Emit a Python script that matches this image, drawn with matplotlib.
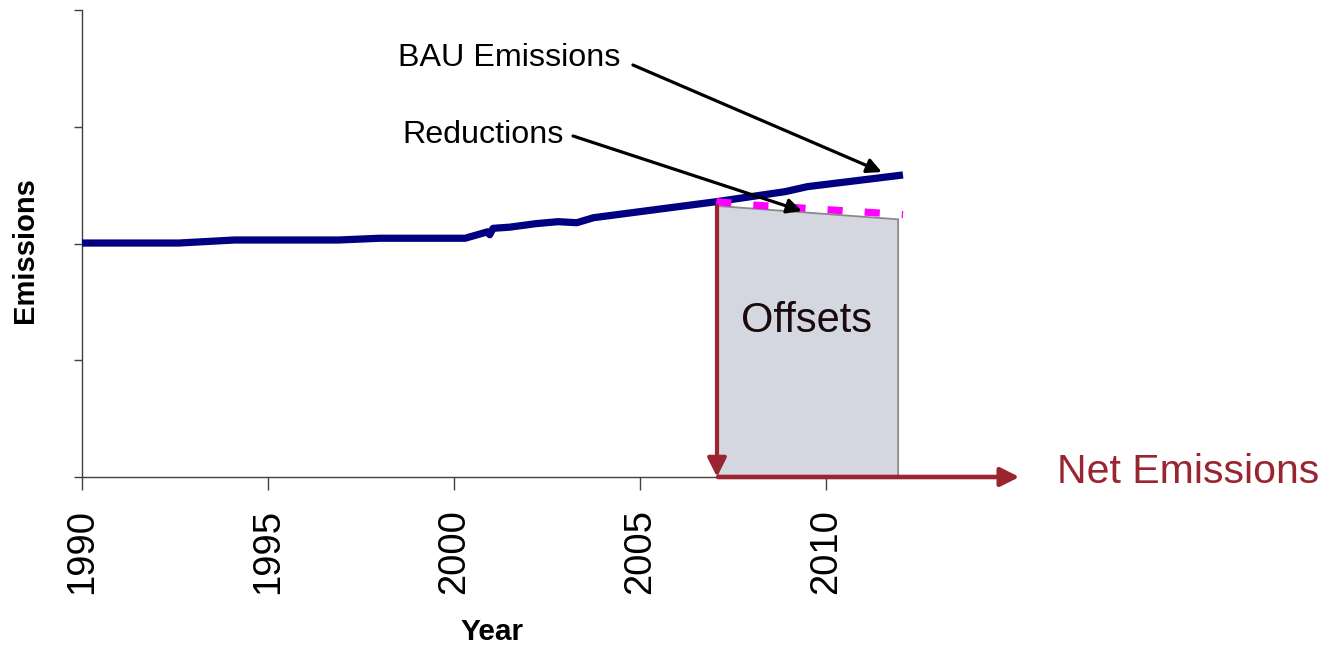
import matplotlib
matplotlib.use('Agg')
import matplotlib.pyplot as plt
import matplotlib.patches as patches

plt.rcParams['font.family'] = ['Liberation Sans', 'DejaVu Sans']

# BAU emissions (year, value)
bau_years = [1990, 1992.6, 1994.1, 1996.9, 1998.0, 2000.3, 2000.9, 2000.96, 2001.05,
             2001.5, 2002.2, 2002.8, 2003.3, 2003.75, 2007.05, 2008.9, 2009.5, 2012.07]
bau_values = [2.004, 2.004, 2.03, 2.03, 2.045, 2.045, 2.10, 2.075, 2.13,
              2.14, 2.17, 2.187, 2.178, 2.221, 2.358, 2.444, 2.487, 2.587]

# reductions path
red_years = [2007.05, 2008, 2009, 2010, 2011, 2012.07]
red_values = [2.358, 2.33, 2.311, 2.29, 2.27, 2.247]

# offsets block (left / right edge)
off_years = [2007.1, 2011.94]
off_top = [2.321, 2.207]

x_ticks = [1990, 1995, 2000, 2005, 2010]
y_ticks = [0, 1, 2, 3, 4]

dark_red = '#9a2430'

fig = plt.figure(figsize=(13.34, 6.48), dpi=100)
ax = fig.add_axes([82 / 1334, 1 - 477 / 648, 930 / 1334, 467 / 648])
ax.set_xlim(1990, 2015)
ax.set_ylim(0, 4)

for s in ['top', 'right']:
    ax.spines[s].set_visible(False)
for s in ['left', 'bottom']:
    ax.spines[s].set_color('#404040')
    ax.spines[s].set_linewidth(1.0)

ax.set_xticks(x_ticks)
ax.set_xticklabels([str(y) for y in x_ticks], rotation=90, fontsize=27.5)
ax.set_yticks(y_ticks)
ax.set_yticklabels([])
ax.tick_params(axis='x', length=9, width=1, color='#404040', pad=14)
ax.tick_params(axis='y', length=6, width=1, color='#404040')

# offsets polygon
poly = patches.Polygon([(off_years[0], 0), (off_years[0], off_top[0]),
                        (off_years[1], off_top[1]), (off_years[1], 0)],
                       closed=True, facecolor='#d4d7e0', edgecolor='#8a8a8a',
                       linewidth=1.3, zorder=2)
ax.add_patch(poly)
ax.text((off_years[0] + off_years[1]) / 2 - 0.05, 1.245, 'Offsets', fontsize=30,
        ha='center', va='baseline', color='#1a0a0a', zorder=5)

ax.plot(bau_years, bau_values, color='#000080', lw=5.2, solid_capstyle='butt',
        solid_joinstyle='round', zorder=3)
ax.plot(red_years, red_values, color='#ff00ff', lw=5.2, dashes=(2.1, 3.05),
        dash_capstyle='butt', zorder=4)

# net emissions arrows
ax.annotate('', xy=(off_years[0] - 0.03, 0), xytext=(off_years[0] - 0.03, off_top[0]),
            arrowprops=dict(arrowstyle='-|>', color=dark_red, lw=3, mutation_scale=28,
                            shrinkA=0, shrinkB=0), zorder=5, annotation_clip=False)
ax.annotate('', xy=(2015.2, 0), xytext=(off_years[0], 0),
            arrowprops=dict(arrowstyle='-|>', color=dark_red, lw=3.3, mutation_scale=28,
                            shrinkA=0, shrinkB=0), zorder=5, annotation_clip=False)
ax.text(2016.2, -0.049, 'Net Emissions', fontsize=29.5, color=dark_red,
        ha='left', va='baseline', clip_on=False)

# labels with arrows
ax.text(1998.49, 3.52, 'BAU Emissions', fontsize=23.2, ha='left', va='baseline')
ax.annotate('', xy=(2011.5, 2.612), xytext=(2004.81, 3.529),
            arrowprops=dict(arrowstyle='-|>', color='black', lw=2.3, mutation_scale=22,
                            shrinkA=0, shrinkB=0), zorder=6)
ax.text(1998.6, 2.858, 'Reductions', fontsize=23.2, ha='left', va='baseline')
ax.annotate('', xy=(2009.35, 2.278), xytext=(2003.2, 2.921),
            arrowprops=dict(arrowstyle='-|>', color='black', lw=2.3, mutation_scale=22,
                            shrinkA=0, shrinkB=0), zorder=6)

ax.set_xlabel('Year', fontsize=21.5, fontweight='bold')
ax.xaxis.set_label_coords((492 - 82) / 930, (477 - 640) / 467)
ax.xaxis.label.set_va('baseline')
ax.set_ylabel('Emissions', fontsize=21, fontweight='bold')
ax.yaxis.label.set_va('center')
ax.yaxis.set_label_coords((25.3 - 82) / 930, (477 - 250.5) / 467)

plt.savefig('out.png', dpi=100)
